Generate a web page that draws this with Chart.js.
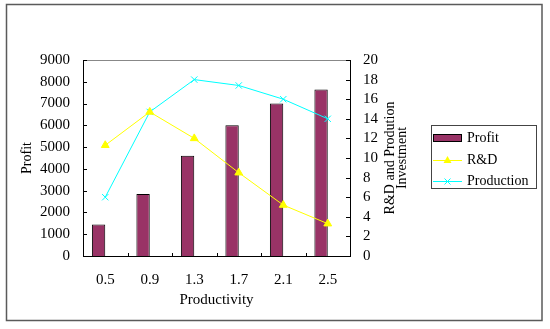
<!DOCTYPE html>
<html lang="en">
<head>
<meta charset="UTF-8">
<title>Productivity</title>
<style>
    body { margin: 0; background: #fff; }
    canvas { display: block; }
</style>
<script src="https://cdn.jsdelivr.net/npm/chart.js"></script>
</head>
<body>
<canvas id="chart" width="550" height="329"></canvas>
<script>
// data
const productivity = ['0.5', '0.9', '1.3', '1.7', '2.1', '2.5'];
const profit = [1450, 2850, 4600, 6000, 7000, 7650];
const rnd = [11.3, 14.7, 12.0, 8.5, 5.2, 3.3];
const production = [6.0, 14.7, 18.0, 17.4, 16.0, 14.0];
const profitTicks = [0, 1000, 2000, 3000, 4000, 5000, 6000, 7000, 8000, 9000];
const investTicks = [0, 2, 4, 6, 8, 10, 12, 14, 16, 18, 20];

const FONT = 'Liberation Serif';
Chart.defaults.font.family = FONT;
Chart.defaults.color = '#000';

function marker(ctx, style, x, y) {
    ctx.beginPath();
    if (style === 'triangle') {
        ctx.fillStyle = '#ffff00';
        ctx.moveTo(x, y - 4.5);
        ctx.lineTo(x + 4, y + 2.5);
        ctx.lineTo(x - 4, y + 2.5);
        ctx.closePath();
        ctx.fill();
    } else {
        ctx.strokeStyle = '#00ffff';
        ctx.moveTo(x - 3, y - 3); ctx.lineTo(x + 3, y + 3);
        ctx.moveTo(x + 3, y - 3); ctx.lineTo(x - 3, y + 3);
        ctx.stroke();
    }
}

const decor = {
    id: 'decor',
    beforeDraw(chart) {
        const ctx = chart.ctx;
        ctx.save();
        ctx.fillStyle = '#fff';
        ctx.fillRect(0, 0, chart.width, chart.height);
        ctx.strokeStyle = '#5a5a5a';
        ctx.lineWidth = 1.5;
        ctx.strokeRect(6.5, 4.5, 535.5, 316);
        ctx.restore();
    },
    afterDraw(chart) {
        const ctx = chart.ctx;
        const a = chart.chartArea;
        const s = chart.scales;
        ctx.save();

        // top border of the plot area
        ctx.strokeStyle = '#888';
        ctx.lineWidth = 1;
        ctx.beginPath();
        ctx.moveTo(a.left, a.top + 0.5);
        ctx.lineTo(a.right, a.top + 0.5);
        ctx.stroke();

        // tick marks pointing inside
        ctx.strokeStyle = '#000';
        ctx.beginPath();
        s.y.ticks.forEach(t => {
            const py = Math.round(s.y.getPixelForValue(t.value)) + 0.5;
            ctx.moveTo(a.left, py); ctx.lineTo(a.left + 4, py);
        });
        s.y2.ticks.forEach(t => {
            const py = Math.round(s.y2.getPixelForValue(t.value)) + 0.5;
            ctx.moveTo(a.right - 4, py); ctx.lineTo(a.right, py);
        });
        const step = (a.right - a.left) / productivity.length;
        for (let i = 1; i < productivity.length; i++) {
            const px = Math.round(a.left + i * step) + 0.5;
            ctx.moveTo(px, a.bottom); ctx.lineTo(px, a.bottom - 3);
        }
        ctx.stroke();

        // right axis title, reading bottom to top
        ctx.fillStyle = '#000';
        ctx.font = '14px "' + FONT + '"';
        ctx.textAlign = 'center';
        ctx.textBaseline = 'middle';
        const cy = (a.top + a.bottom) / 2;
        [['R&D and Prodution', s.y2.left + 40], ['Investment', s.y2.left + 52]].forEach(([txt, x]) => {
            ctx.save();
            ctx.translate(x, cy);
            ctx.rotate(-Math.PI / 2);
            ctx.fillText(txt, 0, 0);
            ctx.restore();
        });

        // legend
        ctx.strokeStyle = '#444';
        ctx.lineWidth = 1;
        ctx.strokeRect(431.5, 125.5, 105, 63);
        ctx.textAlign = 'left';
        const rows = [138, 160, 181];
        chart.data.datasets.filter(d => d.label).forEach((d, i) => {
            const y = rows[i];
            if (d.type === 'line') {
                ctx.strokeStyle = d.borderColor;
                ctx.beginPath();
                ctx.moveTo(433, y + 0.5); ctx.lineTo(462, y + 0.5);
                ctx.stroke();
                marker(ctx, d.pointStyle, 447.5, y + 0.5);
            } else {
                ctx.fillStyle = d.backgroundColor;
                ctx.fillRect(433, y - 4, 29, 8);
                ctx.strokeStyle = '#000';
                ctx.strokeRect(433.5, y - 3.5, 28, 7);
            }
            ctx.fillStyle = '#000';
            ctx.fillText(d.label, 467, y);
        });
        ctx.restore();
    }
};

const plainTick = v => String(v);

new Chart(document.getElementById('chart'), {
    type: 'bar',
    data: {
        labels: productivity,
        datasets: [
            {
                label: 'Profit', data: profit, yAxisID: 'y', order: 3,
                backgroundColor: '#993366', borderColor: '#000', borderWidth: 1,
                categoryPercentage: 0.6, barPercentage: 1
            },
            {
                type: 'line', label: 'R&D', data: rnd, yAxisID: 'y2', order: 1,
                borderColor: '#ffff00', backgroundColor: '#ffff00', borderWidth: 1,
                pointStyle: 'triangle', pointRadius: 4.5, pointBackgroundColor: '#ffff00',
                pointBorderColor: '#ffff00', pointBorderWidth: 1
            },
            {
                type: 'line', label: 'Production', data: production, yAxisID: 'y2', order: 2,
                borderColor: '#00ffff', backgroundColor: '#00ffff', borderWidth: 1,
                pointStyle: 'crossRot', pointRadius: 4.5, pointBorderColor: '#00ffff',
                pointBorderWidth: 1
            },
            {
                // empty second bar slot, keeps Profit bars left of centre
                label: '', data: productivity.map(() => null), yAxisID: 'y', order: 4,
                categoryPercentage: 0.6, barPercentage: 1
            }
        ]
    },
    options: {
        responsive: false,
        animation: false,
        layout: { padding: { left: 10, top: 60, right: 140, bottom: 18 } },
        plugins: { legend: { display: false }, tooltip: { enabled: false } },
        scales: {
            x: {
                grid: { display: false, drawTicks: false },
                border: { color: '#000' },
                ticks: { font: { size: 15 }, padding: 15 },
                title: { display: true, text: 'Productivity', font: { size: 15 }, padding: { top: 0, bottom: 2 } },
                afterFit(scale) { scale.height = 55; }
            },
            y: {
                position: 'left',
                min: profitTicks[0],
                max: profitTicks[profitTicks.length - 1],
                grid: { display: false, drawTicks: false },
                border: { color: '#000' },
                ticks: {
                    stepSize: profitTicks[1] - profitTicks[0], autoSkip: false,
                    font: { size: 15 }, padding: 13, callback: plainTick
                },
                title: { display: true, text: 'Profit', font: { size: 14 }, padding: { top: 9, bottom: 0 } },
                afterFit(scale) { scale.width = 73; }
            },
            y2: {
                position: 'right',
                min: investTicks[0],
                max: investTicks[investTicks.length - 1],
                grid: { display: false, drawTicks: false },
                border: { color: '#000' },
                ticks: {
                    stepSize: investTicks[1] - investTicks[0], autoSkip: false,
                    font: { size: 15 }, padding: 13, callback: plainTick
                },
                afterFit(scale) { scale.width = 60; }
            }
        }
    },
    plugins: [decor]
});
</script>
</body>
</html>
